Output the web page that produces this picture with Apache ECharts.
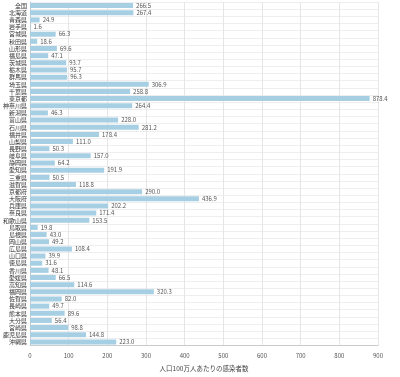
<!DOCTYPE html>
<html>
<head>
    <meta charset="utf-8">
    <title>ECharts</title>
    <script src="https://cdn.jsdelivr.net/npm/echarts@6/dist/echarts.min.js"></script>
    <style>
        html, body { margin: 0; padding: 0; background: #fff; }
    </style>
</head>
<body>
    <div id="main" style="width: 400px;height:377px;"></div>
    <script type="text/javascript">
        var prefs = ['全国', '北海道', '青森県', '岩手県', '宮城県', '秋田県', '山形県', '福島県', '茨城県', '栃木県', '群馬県', '埼玉県',
            '千葉県', '東京都', '神奈川県', '新潟県', '富山県', '石川県', '福井県', '山梨県', '長野県', '岐阜県', '静岡県', '愛知県',
            '三重県', '滋賀県', '京都府', '大阪府', '兵庫県', '奈良県', '和歌山県', '鳥取県', '島根県', '岡山県', '広島県', '山口県',
            '徳島県', '香川県', '愛媛県', '高知県', '福岡県', '佐賀県', '長崎県', '熊本県', '大分県', '宮崎県', '鹿児島県', '沖縄県'];
        var perMillion = [266.5, 267.4, 24.9, 1.6, 66.3, 18.6, 69.6, 47.1, 93.7, 95.7, 96.3, 306.9,
            258.8, 878.4, 264.4, 46.3, 228.0, 281.2, 178.4, 111.0, 50.3, 157.0, 64.2, 191.9,
            50.5, 118.8, 290.0, 436.9, 202.2, 171.4, 153.5, 19.8, 43.0, 49.2, 108.4, 39.9,
            31.6, 48.1, 66.5, 114.6, 320.3, 82.0, 49.7, 89.6, 56.4, 98.8, 144.8, 223.0];
        var axisTitle = '人口100万人あたりの感染者数';

        var myChart = echarts.init(document.getElementById('main'));
        var font = '"Noto Sans CJK JP", sans-serif';
        var option = {
            textStyle: { fontFamily: font },
            grid: { left: 28, right: 22, top: 2, bottom: 26 },
            xAxis: {
                type: 'value',
                min: 0,
                max: 900,
                interval: 100,
                name: axisTitle,
                nameLocation: 'middle',
                nameGap: 20,
                nameTextStyle: { fontSize: 6.5, color: '#444', fontFamily: font },
                axisLine: { show: true, lineStyle: { color: '#ccc' } },
                axisTick: { show: false },
                axisLabel: { fontSize: 6, color: '#555', margin: 7 },
                splitLine: { lineStyle: { color: '#e6e6e6' } }
            },
            yAxis: {
                type: 'category',
                inverse: true,
                data: prefs,
                axisLine: { show: true, lineStyle: { color: '#ccc' } },
                axisTick: { show: false },
                axisLabel: { fontSize: 6, color: '#333', margin: 3, interval: 0, fontFamily: font },
                splitLine: { show: true, lineStyle: { color: '#eee' } }
            },
            series: [{
                type: 'bar',
                data: perMillion,
                barCategoryGap: '30%',
                itemStyle: { color: '#a6cfe4' },
                label: {
                    show: true,
                    position: 'right',
                    fontSize: 6,
                    color: '#555',
                    distance: 3,
                    formatter: function (p) { return p.value.toFixed(1); }
                },
                animation: false
            }]
        };
        myChart.setOption(option);
    </script>
</body>
</html>
